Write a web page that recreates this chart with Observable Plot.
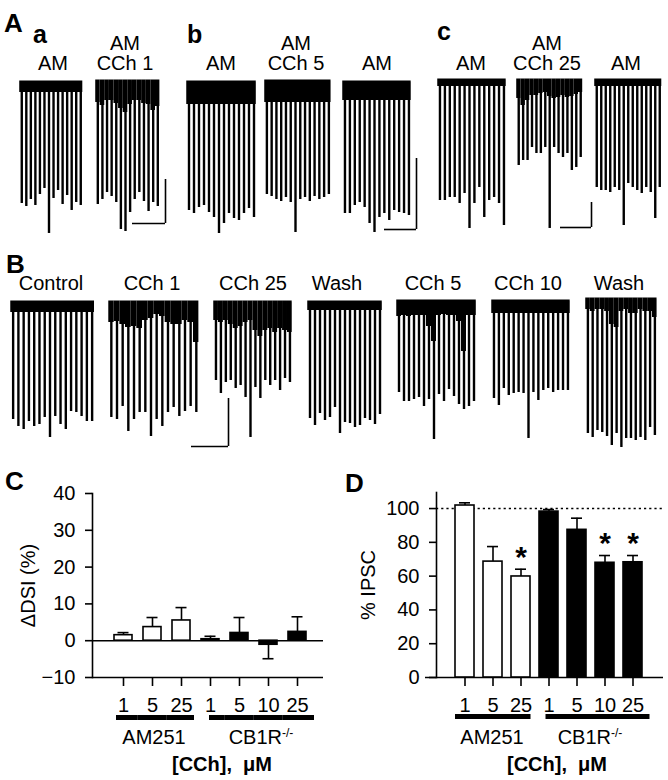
<!DOCTYPE html>
<html><head><meta charset="utf-8">
<script src="https://cdn.jsdelivr.net/npm/d3@7"></script>
<script src="https://cdn.jsdelivr.net/npm/@observablehq/plot@0.6"></script>
<style>
body{margin:0;background:#fff}
#fig{position:relative;width:668px;height:780px;background:#fff;font-family:"Liberation Sans",Arial,sans-serif;color:#000;overflow:hidden}
.t{position:absolute;white-space:nowrap;line-height:0.72}
.p{position:absolute}
sup{font-size:0.6em;vertical-align:0.55em;line-height:0}
</style></head><body><div id="fig"></div>
<script>
// ---------- DATA: sweep-by-sweep IPSC amplitudes (depth below baseline) ----------
// Row A (AM251 experiments)
const aaAM     = [121,124,117,123,112,106,151,116,108,122,113,128,120,123];
const aaCCh1   = [123,118,111,115,121,148,150,131,118,111,120,130,121,125];
const abAM     = [128,131,125,123,130,135,151,141,131,136,138,131,126,135];
const abCCh5   = [113,115,118,120,116,121,151,118,116,120,115,118,116,113];
const abAMwash = [131,131,123,120,125,141,150,135,131,138,128,130,131,133];
const acAM     = [120,120,117,117,123,113,148,123,107,137,120,117,123,145];
const acCCh25  = [85,80,80,67,73,73,67,148,67,73,77,73,90,87,77];
const acAMwash = [107,110,110,112,107,110,145,103,107,110,113,107,112,138,107];
// Row B (CB1R-/- experiment)
const bControl = [117,124,127,119,124,122,115,135,114,122,127,109,110,114,119,119];
const bCCh1    = [115,117,104,129,117,110,110,134,117,124,110,105,114,109,104,110];
const bCCh25   = [78,91,80,78,86,83,95,135,85,96,78,83,78,88,76,80];
const bWash1   = [116,123,111,118,115,105,131,120,121,125,123,116,118,122,112];
const bCCh5    = [91,100,100,98,96,105,98,138,93,100,88,95,103,108,105,100];
const bCCh10   = [97,104,87,94,92,91,92,137,91,99,89,87,91,89,89,89];
const bWash2   = [134,138,131,133,137,146,134,148,139,139,141,138,141,128,136];
// baseline noise band depth (one value per trace, or one per sweep where the band is ragged)
const aaCCh1Noise  = [21,24,19,19,22,27,31,23,19,19,22,23,29,25];
const acCCh25Noise = [18,25,20,15,15,13,12,16,18,17,15,17,16,14,12];
const bCCh1Noise   = [20,19,22,25,24,26,18,16,12,14,20,22,22,18,20,40];
const bCCh25Noise  = [18,20,18,22,26,24,20,18,28,34,28,26,30,26,28,30];
const bCCh5Noise   = [15,14,15,14,14,14,25,40,14,13,14,14,20,50,14,14];
const bWash2Noise  = [10,12,10,10,12,25,28,12,10,14,14,10,12,12,18];
const noiseA = [10, aaCCh1Noise, 22, 21, 18, 6, acCCh25Noise, 6];
const noiseB = [10, bCCh1Noise, bCCh25Noise, 8, bCCh5Noise, 12, bWash2Noise];
// trace labels
const labelsA = [["AM"],["AM","CCh 1"],["AM"],["AM","CCh 5"],["AM"],["AM"],["AM","CCh 25"],["AM"]];
const labelsB = ["Control","CCh 1","CCh 25","Wash","CCh 5","CCh 10","Wash"];
// scale bars (vertical, horizontal lengths)
const scaleV = [44,71,25,48];
const scaleH = [33,32,31,37];

// Bar charts C and D
const cats      = ["A1","A5","A25","K1","K5","K10","K25"];
const catLabels = ["1","5","25","1","5","10","25"];
const catGroup  = ["AM251","AM251","AM251","CB1R","CB1R","CB1R","CB1R"];
const dsiMean   = [1.5,3.7,5.5,0.4,2.1,-1.1,2.4];
const dsiSem    = [0.7,2.6,3.5,0.8,4.2,3.8,4.1];
const ipscMean  = [101.8,68.6,59.8,98.2,87.4,67.9,68.2];
const ipscSem   = [1.6,8.9,4.3,1.2,6.9,4.3,4.0];
const ipscSig   = [false,false,true,false,false,true,true];

// ---------- LAYOUT ----------
const fig = document.getElementById("fig");
const FONT = '"Liberation Sans", Arial, sans-serif';
const FS = 20;

function text(str, x, baseline, size, opts = {}) {
  const d = document.createElement("div");
  d.className = "t";
  d.innerHTML = str;
  d.style.fontSize = size + "px";
  d.style.fontWeight = opts.bold ? "bold" : "normal";
  d.style.top = (baseline - 0.7065 * size) + "px";
  d.style.left = x + "px";
  if (opts.center) d.style.transform = "translateX(-50%)";
  fig.appendChild(d);
}
function place(node, left, top) {
  node.classList.add("p");
  node.style.left = left + "px";
  node.style.top = top + "px";
  fig.appendChild(node);
}

const UP = 4, DOWN = 160;
function trace(values, noise, x0, x1, base) {
  const n = values.length, step = (x1 - x0) / (n - 1), w = step * n;
  const band = Array.isArray(noise) ? noise.map((d, i) => ({i, d})) : [{i: -1, d: noise}];
  const p = Plot.plot({
    width: w, height: UP + DOWN, margin: 0,
    style: {background: "none", overflow: "visible"},
    x: {domain: [-0.5, n - 0.5], axis: null},
    y: {domain: [-DOWN, UP], axis: null},
    marks: [
      Plot.ruleX(values, {x: (d, i) => i, y1: 0, y2: d => -d, stroke: "#000", strokeWidth: 2.4}),
      Plot.rect(band, {
        x1: d => d.i < 0 ? -0.45 : Math.max(-0.45, d.i - 0.5),
        x2: d => d.i < 0 ? n - 1 + 0.45 : Math.min(n - 1 + 0.45, d.i + 0.5),
        y1: 1.5, y2: d => -d.d, fill: "#000"})
    ]
  });
  place(p, x0 - step / 2, base - UP);
}
function scaleBar(i, right, bottom) {
  const v = scaleV[i], h = scaleH[i];
  const p = Plot.plot({
    width: h + 2, height: v + 2, margin: 1,
    style: {background: "none", overflow: "visible"},
    x: {domain: [0, h], axis: null}, y: {domain: [0, v], axis: null},
    marks: [
      Plot.ruleY([0], {x1: 0, x2: h, strokeWidth: 1.6}),
      Plot.ruleX([h], {y1: 0, y2: v, strokeWidth: 1.6})
    ]
  });
  place(p, right - h - 1, bottom - v - 1);
}

// Row A traces
const rowA = [aaAM, aaCCh1, abAM, abCCh5, abAMwash, acAM, acCCh25, acAMwash];
const posA = [[21,80,82],[97,157,81],[188,253,82],[266,328,81],[344,408,82],[439,503,80],[518,580,80],[596,659,80]];
const cxA = [53,125,221,296,377,471,547,626];
rowA.forEach((v, i) => trace(v, noiseA[i], ...posA[i]));
labelsA.forEach((l, i) => {
  if (l.length === 2) { text(l[0], cxA[i], 50, FS, {center: true}); text(l[1], cxA[i], 70, FS, {center: true}); }
  else text(l[0], cxA[i], 70, FS, {center: true});
});
scaleBar(0, 165, 223); scaleBar(1, 416, 229); scaleBar(2, 591, 227);

// Row B traces
const rowB = [bControl, bCCh1, bCCh25, bWash1, bCCh5, bCCh10, bWash2];
const posB = [[13,92,302],[111,196,302],[215,289,302],[309,379,302],[398,473,301],[493,567,301],[587,654,299]];
const cxB = [51,152,253,337,433,528,619];
rowB.forEach((v, i) => trace(v, noiseB[i], ...posB[i]));
labelsB.forEach((l, i) => text(l, cxB[i], 290, FS, {center: true}));
scaleBar(3, 228, 446);

// Panel letters
text("A", 4, 32, 26, {bold: true});
text("a", 33, 43, 25, {bold: true});
text("b", 187, 43, 25, {bold: true});
text("c", 437, 40, 25, {bold: true});
text("B", 6, 273, 26, {bold: true});
text("C", 5, 490, 26, {bold: true});
text("D", 345, 492, 26, {bold: true});

// ---------- BAR CHARTS ----------
function rowsOf(mean, sem) {
  return cats.map((k, i) => ({k, label: catLabels[i], group: catGroup[i], mean: mean[i],
    tip: mean[i] + Math.sign(mean[i] || 1) * sem[i], sig: ipscSig[i]}));
}
const fmt = k => catLabels[cats.indexOf(k)];

function groupBars(rows, y, dy, mid, edges) {
  const marks = [];
  for (const g of ["AM251", "CB1R"]) {
    const r = rows.filter(d => d.group === g);
    const o = {x: "k", y: () => y, dy, stroke: "#000", strokeWidth: 5};
    marks.push(Plot.tickY(r.slice(0, 1), {...o, insetLeft: edges[g][0], insetRight: -mid}));
    marks.push(Plot.tickY(r.slice(1, -1), {...o, insetLeft: -mid, insetRight: -mid}));
    marks.push(Plot.tickY(r.slice(-1), {...o, insetLeft: -mid, insetRight: edges[g][1]}));
  }
  return marks;
}
const axisStyle = {tickSize: 7, tickPadding: 10, strokeWidth: 1.6, fontSize: FS, labelAnchor: "center", labelArrow: "none"};

// Panel C
const rowsC = rowsOf(dsiMean, dsiSem);
const pc = Plot.plot({
  width: 335, height: 300, marginLeft: 92, marginRight: 12, marginTop: 13, marginBottom: 103,
  style: {background: "none", overflow: "visible", fontFamily: FONT, fontSize: FS + "px", color: "#000"},
  x: {type: "band", domain: cats, paddingInner: 0.383, paddingOuter: 0.651, align: 0.55},
  y: {domain: [-10, 40]},
  marks: [
    Plot.ruleY([0], {stroke: "#000", strokeWidth: 1.6}),
    Plot.ruleY([-10], {stroke: "#000", strokeWidth: 1.6}),
    Plot.frame({anchor: "left", stroke: "#000", strokeWidth: 1.6}),
    Plot.ruleX(rowsC, {x: "k", y1: "mean", y2: "tip", strokeWidth: 1.6}),
    Plot.tickY(rowsC, {x: "k", y: "tip", strokeWidth: 1.6, inset: 3.5}),
    Plot.barY(rowsC, {x: "k", y: "mean", fill: d => d.group === "AM251" ? "#fff" : "#000", stroke: "#000", strokeWidth: 1.6}),
    Plot.axisY({...axisStyle, ticks: [-10, 0, 10, 20, 30, 40], label: "ΔDSI (%)", labelOffset: 72}),
    Plot.axisX({tickSize: 9, tickPadding: 11, strokeWidth: 1.6, fontSize: FS, tickFormat: fmt, label: null}),
    ...groupBars(rowsC, -10, 40, 5.6, {AM251: [2, -4], CB1R: [8, -8]})
  ]
});
place(pc, 0, 480);
text("AM251", 154, 744, FS, {center: true});
text("CB1R<sup>-/-</sup>", 261, 744, FS, {center: true});
text("[CCh],&nbsp; μM", 222, 771, FS, {center: true, bold: true});

// Panel D
const rowsD = rowsOf(ipscMean, ipscSem);
const pd = Plot.plot({
  width: 338, height: 300, marginLeft: 106, marginRight: 5, marginTop: 12, marginBottom: 103,
  style: {background: "none", overflow: "visible", fontFamily: FONT, fontSize: FS + "px", color: "#000"},
  x: {type: "band", domain: cats, paddingInner: 0.333, paddingOuter: 0.649, align: 0.473},
  y: {domain: [0, 109.5]},
  marks: [
    Plot.ruleY([100], {stroke: "#000", strokeWidth: 1.6, strokeDasharray: "2.2,3"}),
    Plot.ruleY([0], {stroke: "#000", strokeWidth: 1.6, insetLeft: -11}),
    Plot.frame({anchor: "left", stroke: "#000", strokeWidth: 1.6}),
    Plot.ruleX(rowsD, {x: "k", y1: "mean", y2: "tip", strokeWidth: 1.6}),
    Plot.tickY(rowsD, {x: "k", y: "tip", strokeWidth: 1.6, inset: 4}),
    Plot.barY(rowsD, {x: "k", y: "mean", fill: d => d.group === "AM251" ? "#fff" : "#000", stroke: "#000", strokeWidth: 1.6}),
    Plot.text(rowsD.filter(d => d.sig), {x: "k", y: "tip", text: () => "*", dy: -12, fontSize: 30, fontWeight: "bold", lineAnchor: "middle"}),
    Plot.axisY({...axisStyle, ticks: [0, 20, 40, 60, 80, 100], label: "% IPSC", labelOffset: 76}),
    Plot.axisX({tickSize: 9, tickPadding: 11, strokeWidth: 1.6, fontSize: FS, tickFormat: fmt, label: null}),
    ...groupBars(rowsD, 0, 39, 5, {AM251: [0, -0.5], CB1R: [6.5, -7.5]})
  ]
});
place(pd, 330, 480);
text("AM251", 492, 744, FS, {center: true});
text("CB1R<sup>-/-</sup>", 590, 744, FS, {center: true});
text("[CCh],&nbsp; μM", 557, 771, FS, {center: true, bold: true});
</script></body></html>
